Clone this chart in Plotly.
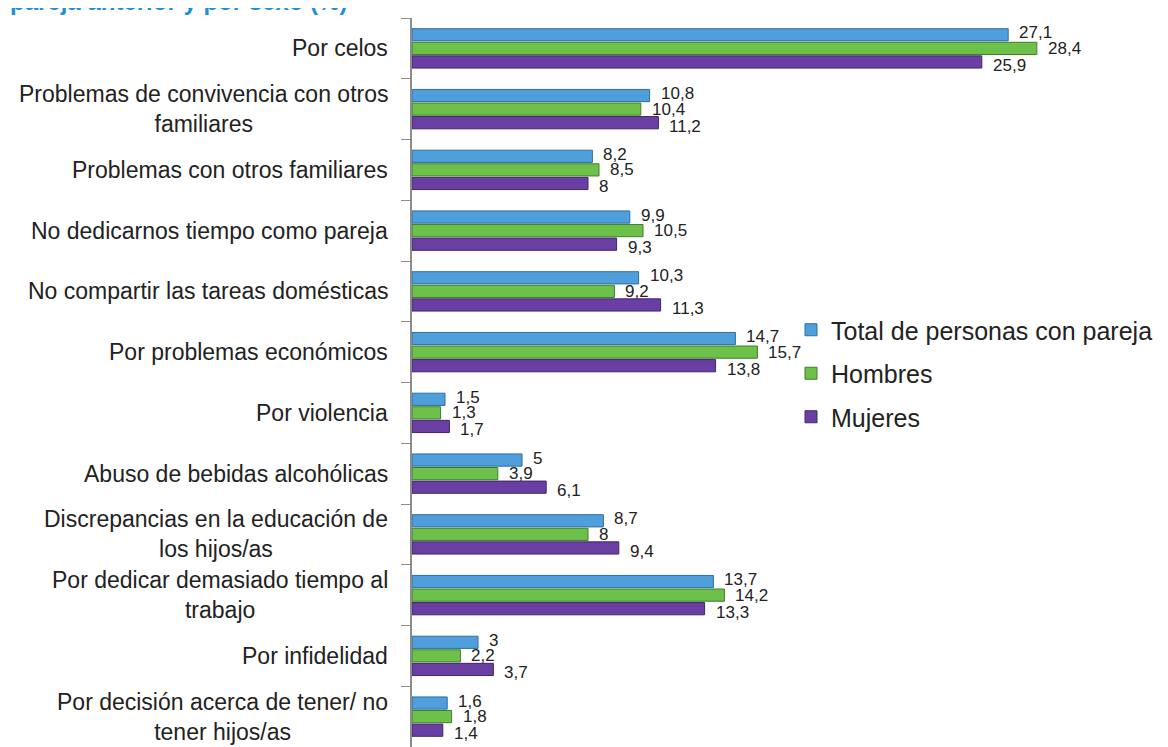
import plotly.graph_objects as go

categories = [
    "Por celos",
    "Problemas de convivencia con otros<br>familiares",
    "Problemas con otros familiares",
    "No dedicarnos tiempo como pareja",
    "No compartir las tareas domésticas",
    "Por problemas económicos",
    "Por violencia",
    "Abuso de bebidas alcohólicas",
    "Discrepancias en la educación de<br>los hijos/as",
    "Por dedicar demasiado tiempo al<br>trabajo",
    "Por infidelidad",
    "Por decisión acerca de tener/ no<br>tener hijos/as",
]
series_names = ["Total de personas con pareja", "Hombres", "Mujeres"]
total = [27.1, 10.8, 8.2, 9.9, 10.3, 14.7, 1.5, 5, 8.7, 13.7, 3, 1.6]
hombres = [28.4, 10.4, 8.5, 10.5, 9.2, 15.7, 1.3, 3.9, 8, 14.2, 2.2, 1.8]
mujeres = [25.9, 11.2, 8, 9.3, 11.3, 13.8, 1.7, 6.1, 9.4, 13.3, 3.7, 1.4]
title_text = "pareja anterior y por sexo (%)"

colors = ["#4F9FDC", "#6DC04A", "#6A3FA3"]
edge_colors = ["#2E6E9E", "#3F7F2A", "#42246B"]
FONT = "Liberation Sans, Arial, sans-serif"

# page body has an 8px margin: figure coords = screen coords - 8
OFF = 8
W, H = 1168, 747
ML, MR, MT, MB = 404, 104, 10, 8
plot_w = W - ML - MR
plot_h = H - MT - MB


def px_x(screen_x):
    return (screen_x - OFF - ML) / plot_w


def px_y(screen_y):
    return 1 - (screen_y - OFF - MT) / plot_h


def fmt(v):
    return f"{v:g}".replace(".", ",")


all_series = [total, hombres, mujeres]
label_yshift = [15.5, 0, -17]

fig = go.Figure()
annotations = []
for i, (name, vals) in enumerate(zip(series_names, all_series)):
    fig.add_trace(go.Bar(
        y=categories, x=vals, orientation="h", name=name,
        legendgroup=f"g{i}",
        marker=dict(color=colors[i], line=dict(color=edge_colors[i], width=1)),
        cliponaxis=False,
    ))
    for c, v in zip(categories, vals):
        annotations.append(dict(
            x=v, xref="x", y=c, yref="y", text=fmt(v), showarrow=False,
            xanchor="left", yanchor="middle", xshift=9, yshift=label_yshift[i],
            font=dict(size=17, color="#222222", family=FONT),
        ))

for c in categories:
    annotations.append(dict(
        x=px_x(390), xref="paper", y=c, yref="y",
        text=c, showarrow=False, xanchor="right", yanchor="middle", align="center",
        font=dict(size=23, color="#222222", family=FONT),
    ))
annotations.append(dict(
    x=px_x(8), xref="paper", y=px_y(17), yref="paper",
    text=f"<b>{title_text}</b>", showarrow=False, xanchor="left", yanchor="bottom",
    font=dict(size=24, color="#1E90D8", family=FONT),
))

fig.update_layout(
    width=W, height=H,
    margin=dict(l=ML, r=MR, t=MT, b=MB),
    paper_bgcolor="white", plot_bgcolor="white",
    barmode="group", bargap=0.33, bargroupgap=0.1,
    showlegend=True,
    legend=dict(
        x=px_x(791), y=px_y(307), xanchor="left", yanchor="top",
        traceorder="grouped", tracegroupgap=8,
        font=dict(size=25, color="#222222", family=FONT),
        bgcolor="rgba(0,0,0,0)", itemwidth=30,
    ),
    xaxis=dict(range=[0, 30], showgrid=False, zeroline=False, showticklabels=False,
               showline=False, ticks=""),
    yaxis=dict(autorange="reversed", showgrid=False, zeroline=False, showticklabels=False,
               showline=True, linecolor="#8C8C8C", linewidth=2,
               ticks="outside", ticklen=9, tickcolor="#8C8C8C", tickwidth=1,
               tickson="boundaries"),
    annotations=annotations,
)

fig.write_html("out.html")
